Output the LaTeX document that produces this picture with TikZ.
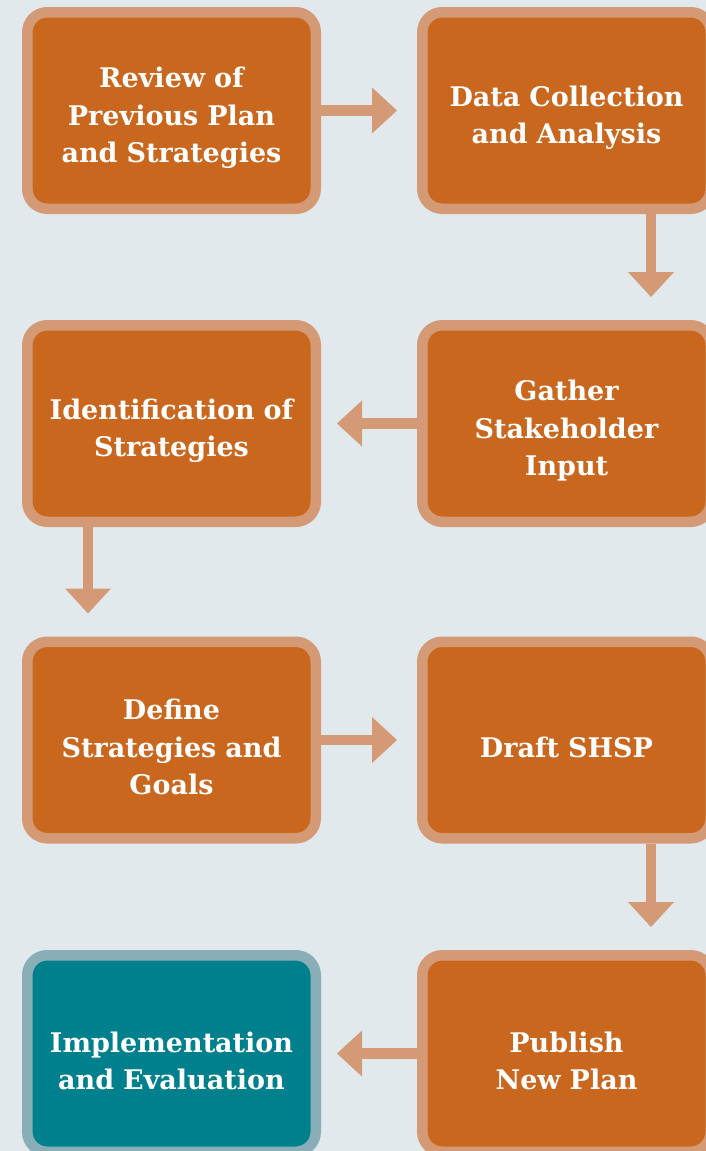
\documentclass[tikz,border=0pt]{standalone}
\usepackage{fontspec}
\setmainfont{DejaVu Serif}
\usetikzlibrary{arrows.meta}
\usetikzlibrary{positioning}
\definecolor{mbg}{HTML}{E1E9ED}
\definecolor{morange}{HTML}{C9671F}
\definecolor{mpeach}{HTML}{D39A75}
\definecolor{mteal}{HTML}{00808D}
\definecolor{mtealb}{HTML}{8AAEB8}
\tikzset{stage/.style = {draw=mpeach, fill=morange, line width=10.5pt, rounded corners=20pt,
    minimum width=288.5pt, minimum height=196.5pt, inner sep=0, text=white,
    text width=280pt, align=center,
    font=\bfseries\fontsize{27}{37.5}\selectfont,
    execute at begin node={\rule{0pt}{35pt}}}}
\tikzset{flow/.style = {draw=mpeach, line width=10.5pt, -{Triangle[length=25pt, width=46pt, line width=0pt]}}}

\begin{document}
\begin{tikzpicture}[x=1pt, y=-1pt]
    \useasboundingbox [fill=mbg] (0, 0) rectangle (706, 1151);

    \node [stage] (review) at (171.5, 110.5) {Review of\\Previous Plan\\and Strategies};
    \node [stage] (collect) at (566.5, 110.5) {Data Collection\\and Analysis};
    \node [stage] (identify) at (171.5, 423.5) {Identification of\\Strategies};
    \node [stage] (gather) at (566.5, 423.5) {Gather\\Stakeholder\\Input};
    \node [stage] (define) at (171.5, 740) {Define\\Strategies and\\Goals};
    \node [stage] (draft) at (566.5, 740) {Draft SHSP};
    \node [stage, draw=mtealb, fill=mteal] (implement) at (171.5, 1053.5) {Implementation\\and Evaluation};
    \node [stage] (publish) at (566.5, 1053.5) {Publish\\New Plan};

    \draw [flow, shorten >=20pt] (review.east) -- (collect.west);
    \draw [flow, shorten >=23pt] ([xshift=-65pt]collect.south east) -- ([xshift=-65pt]gather.north east);
    \draw [flow, shorten >=16pt] (gather.west) -- (identify.east);
    \draw [flow, shorten >=23pt] ([xshift=66pt]identify.south west) -- ([xshift=66pt]define.north west);
    \draw [flow, shorten >=20pt] (define.east) -- (draft.west);
    \draw [flow, shorten >=23pt] ([xshift=-65pt]draft.south east) -- ([xshift=-65pt]publish.north east);
    \draw [flow, shorten >=16pt] (publish.west) -- (implement.east);
  \end{tikzpicture}
\end{document}
